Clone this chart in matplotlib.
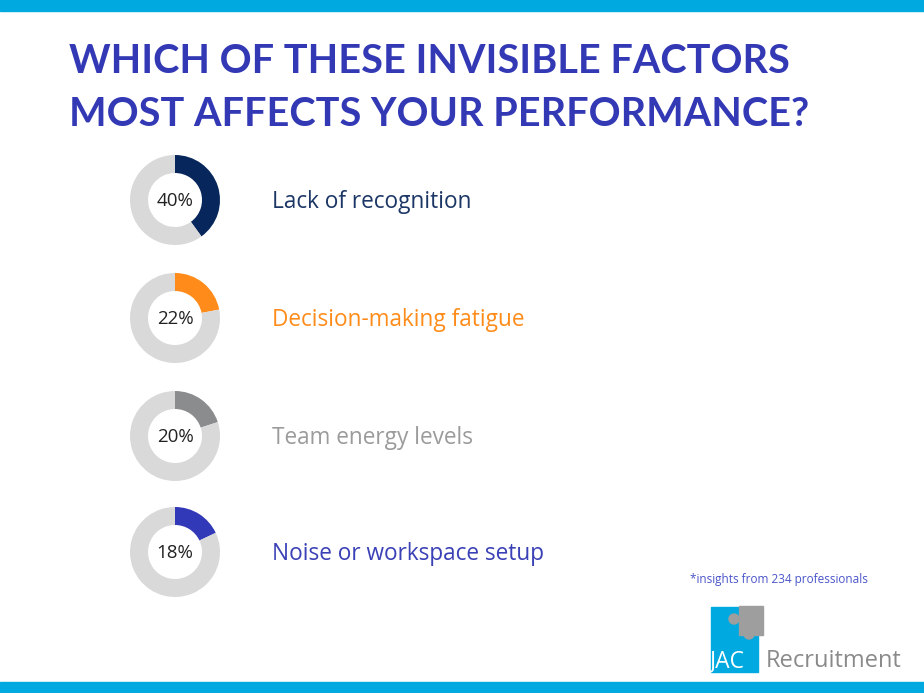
import matplotlib.pyplot as plt
from matplotlib.patches import Rectangle, Circle

# data
labels = ["Lack of recognition", "Decision-making fatigue", "Team energy levels", "Noise or workspace setup"]
values = [40, 22, 20, 18]
colors = ["#07275c", "#ff8c1a", "#8a8c8e", "#3239b8"]
label_colors = ["#1c3766", "#ff8c1a", "#9b9b9b", "#3a40b5"]
title = "WHICH OF THESE INVISIBLE FACTORS\nMOST AFFECTS YOUR PERFORMANCE?"
note = "*insights from 234 professionals"

W, H = 924, 693
fig = plt.figure(figsize=(W / 100, H / 100), dpi=100)
bg = fig.add_axes([0, 0, 1, 1])
bg.set_xlim(0, W)
bg.set_ylim(H, 0)
bg.axis("off")

# top and bottom bars
bg.add_patch(Rectangle((0, 0), W, 11, color="#00a9e0"))
bg.add_patch(Rectangle((0, 682), W, 11, color="#00a9e0"))

bg.text(69, 43, title, fontsize=28.5, fontweight="bold", color="#3339b5",
        family="Lato", va="top", linespacing=1.55)

cx = 175
cys = [200, 318, 436, 552]
r = 45
for i in range(len(values)):
    cy = cys[i]
    ax = fig.add_axes([(cx - r) / W, (H - cy - r) / H, 2 * r / W, 2 * r / H])
    ax.pie([values[i], 100 - values[i]], colors=[colors[i], "#d9d9d9"], startangle=90,
           counterclock=False, wedgeprops=dict(width=0.4, linewidth=0))
    ax.set_xlim(-1, 1)
    ax.set_ylim(-1, 1)
    ax.text(0, -0.02, "%d%%" % values[i], ha="center", va="center", fontsize=13.5,
            color="#222222", family="Open Sans")
    bg.text(272, cy + 2, labels[i], fontsize=16.3, color=label_colors[i], va="center",
            family="Open Sans")

bg.text(690, 579, note, fontsize=8.5, color="#4a55c8", va="center", family="Open Sans")

# logo
bg.add_patch(Rectangle((711, 607), 47, 65, color="#00a9e0"))
bg.add_patch(Rectangle((739, 606), 24, 29, color="#9e9e9e"))
bg.add_patch(Circle((734, 619), 5, color="#9e9e9e"))
bg.add_patch(Circle((749, 634), 5, color="#9e9e9e"))
bg.text(710, 661, "JAC", fontsize=16.5, color="white", va="center", family="Open Sans")
bg.text(766, 661, "Recruitment", fontsize=17, color="#8a8a8a", va="center", family="Open Sans")

fig.savefig("out.png", dpi=100)
